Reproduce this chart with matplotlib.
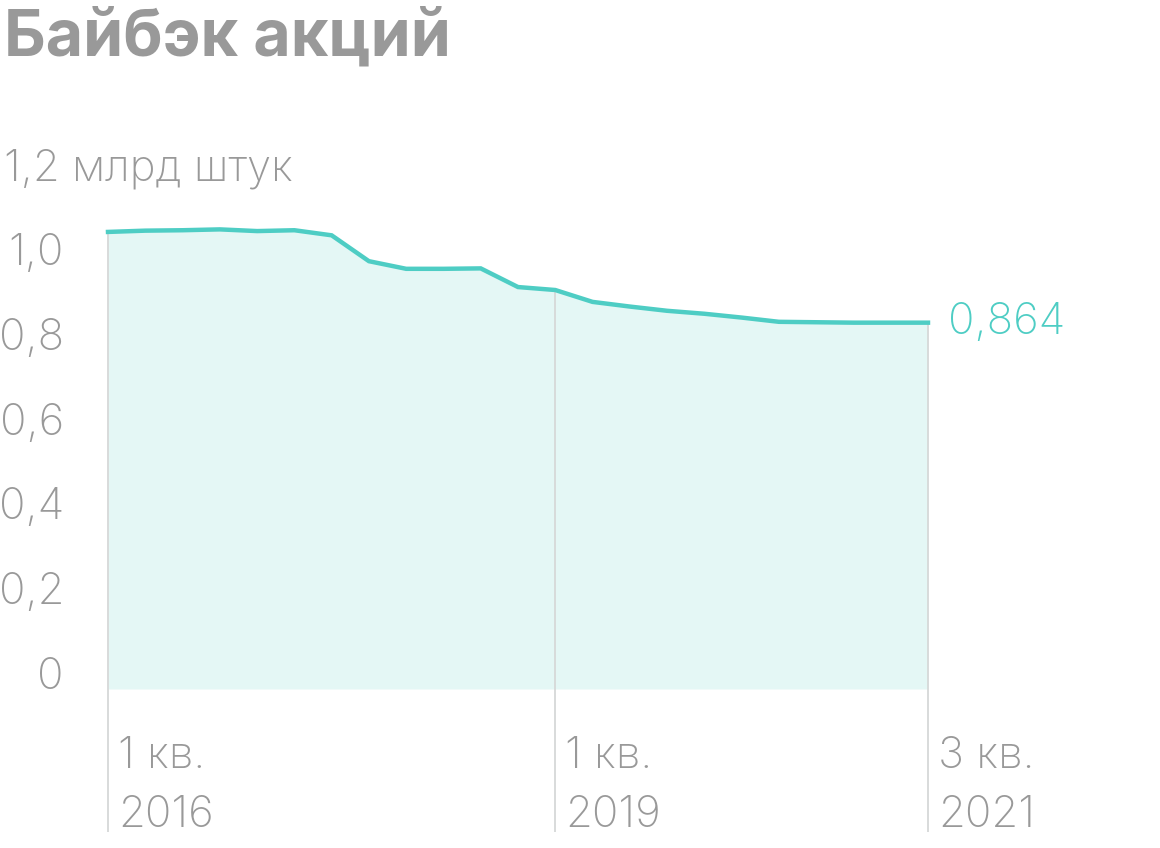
import matplotlib
matplotlib.use("Agg")
import matplotlib.pyplot as plt

# ---- data ----
quarters = list(range(23))  # 1 кв. 2016 ... 3 кв. 2021
values = [1.078, 1.081, 1.082, 1.084, 1.080, 1.082, 1.070, 1.009, 0.991, 0.991,
          0.992, 0.948, 0.941, 0.913, 0.902, 0.892, 0.885, 0.876, 0.866, 0.865,
          0.864, 0.864, 0.864]
ytick_values = [0, 0.2, 0.4, 0.6, 0.8, 1.0]
ytick_labels = ["0", "0,2", "0,4", "0,6", "0,8", "1,0"]
top_label = "1,2 млрд штук"
xlabel_idx = [0, 12, 22]
xlabel_line1 = ["1 кв.", "1 кв.", "3 кв."]
xlabel_line2 = ["2016", "2019", "2021"]
title = "Байбэк акций"
last_label = "0,864"

TEAL = "#4ECDC4"
FILL = "#E4F7F5"
GREY = "#999999"
VLINE = "#D6D8D8"

plt.rcParams['font.family'] = ['Inter', 'DejaVu Sans']
FS = 31.5
W_TXT = 'light'

W, H = 1160, 848
fig = plt.figure(figsize=(W / 100, H / 100), dpi=100)
ax = fig.add_axes([108 / W, 1 - 689 / H, (928 - 108) / W, 0.6])
ax.set_xlim(0, 22)
ax.set_ylim(0, 1.2)
ax.axis('off')

# vertical guide lines
ybottom = (689 - 832) / 424.0
for i in xlabel_idx:
    ax.vlines(i, ybottom, values[i], color=VLINE, lw=1.3, zorder=1, clip_on=False)

ax.fill_between(quarters, values, 0, color=FILL, lw=0, zorder=0.5)
ax.plot(quarters, values, color=TEAL, lw=3.2, zorder=3, solid_joinstyle='miter',
        clip_on=False)

# y labels
for v, lab in zip(ytick_values, ytick_labels):
    ax.annotate(lab, xy=(64 / W, v), xycoords=('figure fraction', 'data'),
                xytext=(0, 0), textcoords='offset points',
                ha='right', va='baseline', fontsize=FS, color=GREY,
                fontweight=W_TXT)
ax.annotate(top_label, xy=(4 / W, 1.2), xycoords=('figure fraction', 'data'),
            xytext=(0, 0), textcoords='offset points',
            ha='left', va='baseline', fontsize=FS, color=GREY, fontweight=W_TXT)

# x labels
for i, l1, l2 in zip(xlabel_idx, xlabel_line1, xlabel_line2):
    ax.annotate(l1, xy=(i, 80 / H), xycoords=('data', 'figure fraction'),
                xytext=(7.2, 0), textcoords='offset points',
                ha='left', va='baseline', fontsize=FS, color=GREY, fontweight=W_TXT)
    ax.annotate(l2, xy=(i, 21 / H), xycoords=('data', 'figure fraction'),
                xytext=(7.2, 0), textcoords='offset points',
                ha='left', va='baseline', fontsize=FS, color=GREY, fontweight=W_TXT)

# last value label
ax.annotate(last_label, xy=(quarters[-1], values[-1]), xycoords='data',
            xytext=(14.4, 0), textcoords='offset points',
            ha='left', va='center', fontsize=FS, color=TEAL, fontweight=W_TXT)

# title
fig.text(4 / W, 1 - 55 / H, title, ha='left', va='baseline', fontsize=46.5,
         fontweight='bold', color=GREY)

fig.savefig("out.png", dpi=100)
